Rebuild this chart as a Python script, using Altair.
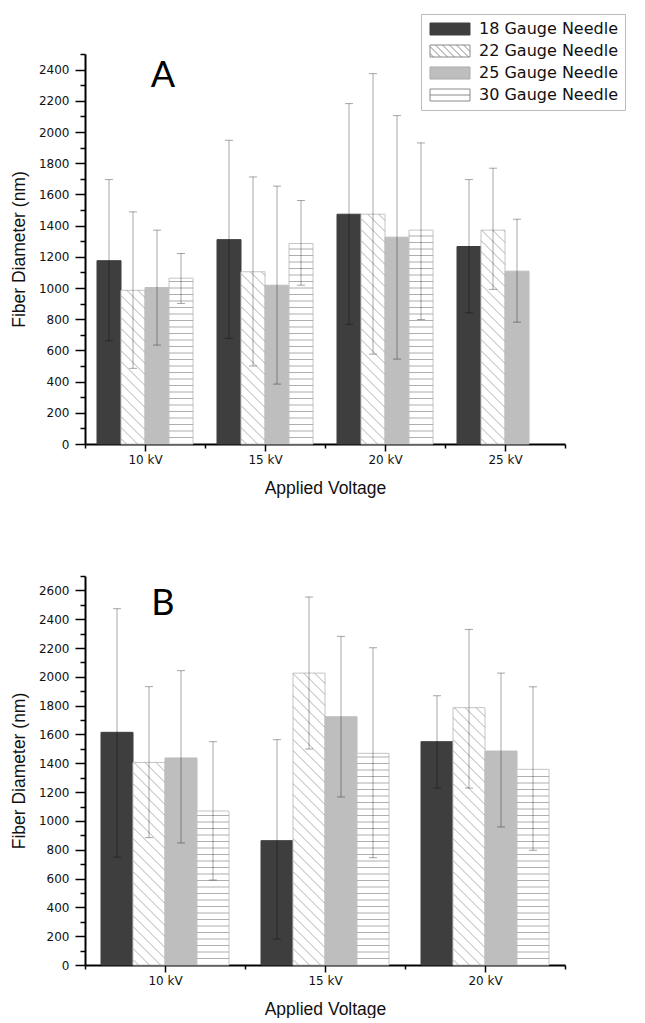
import json
import altair as alt
import pandas as pd

# ---------------- data ----------------
gauges = ["18 Gauge Needle", "22 Gauge Needle", "25 Gauge Needle", "30 Gauge Needle"]

# Panel A
a_voltages = ["10 kV", "15 kV", "20 kV", "25 kV"]
a_mean = {
    "18 Gauge Needle": [1175, 1310, 1473, 1266],
    "22 Gauge Needle": [985, 1104, 1473, 1371],
    "25 Gauge Needle": [1003, 1018, 1326, 1108],
    "30 Gauge Needle": [1063, 1285, 1371, None],
}
a_low = {
    "18 Gauge Needle": [662, 677, 767, 841],
    "22 Gauge Needle": [485, 500, 576, 991],
    "25 Gauge Needle": [634, 384, 544, 781],
    "30 Gauge Needle": [901, 1018, 798, None],
}
a_high = {
    "18 Gauge Needle": [1695, 1947, 2182, 1695],
    "22 Gauge Needle": [1488, 1712, 2374, 1768],
    "25 Gauge Needle": [1371, 1653, 2105, 1441],
    "30 Gauge Needle": [1221, 1561, 1930, None],
}

# Panel B
b_voltages = ["10 kV", "15 kV", "20 kV"]
b_mean = {
    "18 Gauge Needle": [1615, 863, 1550],
    "22 Gauge Needle": [1406, 2026, 1786],
    "25 Gauge Needle": [1437, 1723, 1485],
    "30 Gauge Needle": [1069, 1469, 1358],
}
b_low = {
    "18 Gauge Needle": [749, 180, 1228],
    "22 Gauge Needle": [884, 1499, 1228],
    "25 Gauge Needle": [847, 1166, 958],
    "30 Gauge Needle": [590, 745, 796],
}
b_high = {
    "18 Gauge Needle": [2473, 1564, 1869],
    "22 Gauge Needle": [1932, 2554, 2329],
    "25 Gauge Needle": [2043, 2281, 2026],
    "30 Gauge Needle": [1550, 2202, 1931],
}

# ---------------- styling ----------------
DARK = "#3e3e3e"
LIGHT = "#bebebe"
fills = {gauges[0]: DARK, gauges[1]: "#ffffff", gauges[2]: LIGHT, gauges[3]: "#ffffff"}
strokes = {gauges[0]: DARK, gauges[1]: "#c4c4c4", gauges[2]: LIGHT, gauges[3]: "#c4c4c4"}
hatch = {gauges[1]: "diag", gauges[3]: "horiz"}
HATCH_COLOR = "#9a9a9a"
W = 480
LABEL_FONT = "DejaVu Sans"
TITLE_FONT = "Liberation Sans"


def swatch_paths(sw_w, sw_h):
    hw = sw_w / sw_h  # half width in unit box (height is [-1, 1])
    rect = f"M{-hw:.3f},-1H{hw:.3f}V1H{-hw:.3f}Z"
    diag = rect
    step = 7.0 / (sw_h / 2)
    x0 = -hw - 2 + step * 0.5
    while x0 < hw:
        xs, ys = x0, -1.0
        xe, ye = x0 + 2, 1.0
        if xs < -hw:
            ys = -1 + (-hw - xs)
            xs = -hw
        if xe > hw:
            ye = 1 - (xe - hw)
            xe = hw
        if xe > xs:
            diag += f"M{xs:.3f},{ys:.3f}L{xe:.3f},{ye:.3f}"
        x0 += step
    horiz = rect + f"M{-hw:.3f},0H{hw:.3f}"
    return [rect, diag, rect, horiz]


def make_panel(voltages, mean, low, high, ymax, H, letter, letter_y, leg_x, leg_y, sw_w, sw_h):
    n = len(voltages)
    pxX = W / n
    pxY = H / ymax
    rows, hrows = [], []
    for ci, v in enumerate(voltages):
        for gi, g in enumerate(gauges):
            m = mean[g][ci]
            if m is None:
                continue
            x0 = ci + 0.1 + 0.2 * gi
            x1 = x0 + 0.2
            xc = x0 + 0.1
            cap = 4.0 / pxX
            rows.append(dict(voltage=v, gauge=g, x0=x0, x1=x1, xc=xc, cl=xc - cap, cr=xc + cap,
                             mean=m, lo=low[g][ci], hi=high[g][ci], base=0,
                             fillc=fills[g], strokec=strokes[g]))
            w = 0.2 * pxX
            h = m * pxY
            kind = hatch.get(g)
            if kind == "diag":
                s = 11.0
                c = s * 0.5
                while c < h + w:
                    xs = max(0.0, c - h)
                    xe = min(w, c)
                    if xe > xs:
                        hrows.append(dict(hx=x0 + xs / pxX, hy=(c - xs) / pxY,
                                          hx2=x0 + xe / pxX, hy2=(c - xe) / pxY))
                    c += s
            elif kind == "horiz":
                s = 6.5
                yy = s
                while yy < h - 1:
                    hrows.append(dict(hx=x0, hy=yy / pxY, hx2=x1, hy2=yy / pxY))
                    yy += s
    df = pd.DataFrame(rows)
    hdf = pd.DataFrame(hrows)

    xscale = alt.Scale(domain=[0, n], nice=False, zero=True)
    yscale = alt.Scale(domain=[0, ymax], nice=False, zero=True)
    names = json.dumps(voltages)
    xaxis = alt.Axis(
        values=[i * 0.5 for i in range(2 * n + 1)],
        labelExpr=f"(datum.value % 1 === 0.5) ? {names}[floor(datum.value)] : ''",
        tickSize={"condition": {"test": "datum.value % 1 === 0.5", "value": 7}, "value": 4},
        title="Applied Voltage",
        labelPadding=3,
        titlePadding=14,
    )
    yaxis = alt.Axis(
        values=list(range(0, ymax + 1, 100)),
        format="d",
        labelExpr="(datum.value % 200 === 0) ? datum.label : ''",
        tickSize={"condition": {"test": "datum.value % 200 === 0", "value": 10}, "value": 5},
        title="Fiber Diameter (nm)",
        labelPadding=6,
        titlePadding=10,
    )

    base = alt.Chart(df)
    bars = base.mark_bar(strokeWidth=1).encode(
        x=alt.X("x0:Q", scale=xscale, axis=xaxis),
        x2="x1:Q",
        y=alt.Y("base:Q", scale=yscale, axis=yaxis),
        y2="mean:Q",
        color=alt.Color("fillc:N", scale=None),
        stroke=alt.Stroke("strokec:N", scale=None),
    )
    hatch_layer = alt.Chart(hdf).mark_rule(stroke=HATCH_COLOR, strokeWidth=0.8).encode(
        x=alt.X("hx:Q", scale=xscale, axis=xaxis),
        x2="hx2:Q",
        y=alt.Y("hy:Q", scale=yscale, axis=yaxis),
        y2="hy2:Q",
    )
    err = base.mark_rule(stroke="#000000", strokeOpacity=0.35, strokeWidth=1).encode(
        x=alt.X("xc:Q", scale=xscale, axis=xaxis),
        y=alt.Y("lo:Q", scale=yscale, axis=yaxis),
        y2="hi:Q",
    )
    cap_lo = base.mark_rule(stroke="#000000", strokeOpacity=0.35, strokeWidth=1).encode(
        x=alt.X("cl:Q", scale=xscale, axis=xaxis),
        x2="cr:Q",
        y=alt.Y("lo:Q", scale=yscale, axis=yaxis),
    )
    cap_hi = base.mark_rule(stroke="#000000", strokeOpacity=0.35, strokeWidth=1).encode(
        x=alt.X("cl:Q", scale=xscale, axis=xaxis),
        x2="cr:Q",
        y=alt.Y("hi:Q", scale=yscale, axis=yaxis),
    )

    sym_off = (sw_w - sw_h) / 2
    leg = alt.Legend(
        title=None,
        orient="none",
        legendX=leg_x,
        legendY=leg_y,
        labelFont=LABEL_FONT,
        labelFontSize=16,
        labelColor="#111111",
        labelLimit=400,
        symbolSize=sw_h * sw_h,
        symbolStrokeWidth=1,
        symbolOffset=sym_off,
        labelOffset=sw_w + 7 - sym_off - sw_h,
        rowPadding=6,
        padding=7,
        strokeColor="#bbbbbb",
        fillColor="#ffffff",
    )
    legend_layer = base.mark_point(opacity=0, filled=True).encode(
        x=alt.X("xc:Q", scale=xscale, axis=xaxis),
        y=alt.Y("mean:Q", scale=yscale, axis=yaxis),
        shape=alt.Shape("gauge:N", scale=alt.Scale(domain=gauges, range=swatch_paths(sw_w, sw_h)), legend=leg),
        fill=alt.Fill("gauge:N", scale=alt.Scale(domain=gauges, range=[fills[g] for g in gauges]), legend=leg),
        stroke=alt.Stroke("gauge:N", scale=alt.Scale(domain=gauges, range=[DARK, "#8a8a8a", "#aaaaaa", "#8a8a8a"]), legend=leg),
    )

    letter_layer = alt.Chart(pd.DataFrame({"t": [letter]})).mark_text(
        font="Lato", fontSize=36, align="center", baseline="middle", color="#000000"
    ).encode(text="t:N", x=alt.value(78), y=alt.value(letter_y))

    return alt.layer(bars, hatch_layer, err, cap_lo, cap_hi, legend_layer, letter_layer).properties(
        width=W, height=H
    )


panel_a = make_panel(a_voltages, a_mean, a_low, a_high, 2500, 390, "A", 22, 336, -40, 40, 12)
panel_b = make_panel(b_voltages, b_mean, b_low, b_high, 2700, 389, "B", 28, 357, -52, 41, 14)

chart = alt.vconcat(panel_a, panel_b, spacing=78).properties(
    padding={"left": 2, "top": 5, "right": 0, "bottom": 0}
).configure_view(stroke=None).configure_axis(
    domainColor="#000000",
    domainWidth=2,
    tickColor="#000000",
    tickWidth=1.5,
    grid=False,
    labelFont=LABEL_FONT,
    labelFontSize=12,
    labelColor="#111111",
    titleFont=TITLE_FONT,
    titleFontSize=17.5,
    titleFontWeight="normal",
    titleColor="#111111",
)

chart.save("out.html", embed_options={"renderer": "svg", "actions": False})
